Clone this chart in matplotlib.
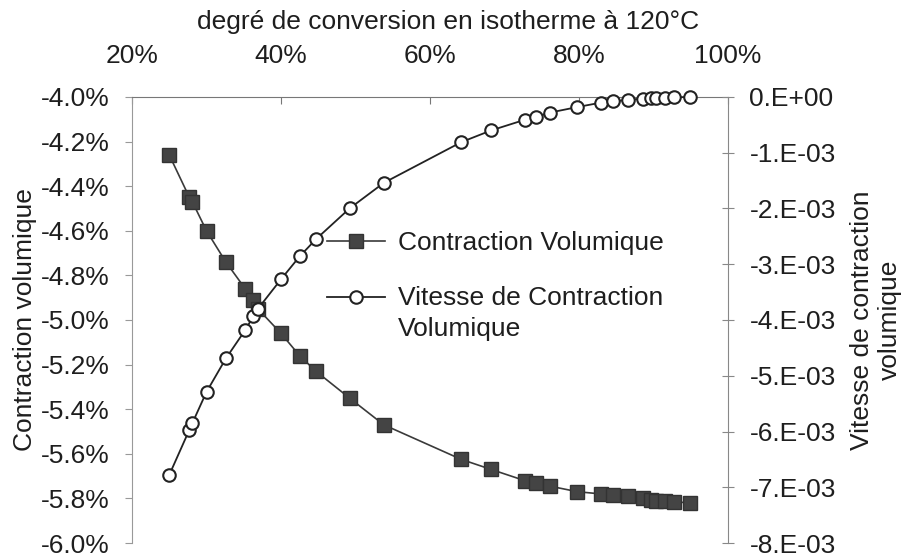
import numpy as np
import matplotlib
matplotlib.use('Agg')
import matplotlib.pyplot as plt
from matplotlib.ticker import FuncFormatter
from matplotlib.legend_handler import HandlerLine2D

plt.rcParams['font.family'] = ['Liberation Sans', 'DejaVu Sans']
plt.rcParams['font.size'] = 19

# degré de conversion (%)
conversion = [25.0, 27.7, 28.1, 30.0, 32.6, 35.2, 36.3, 36.9, 40.0, 42.5, 44.7,
              49.2, 53.8, 64.2, 68.2, 72.7, 74.2, 76.1, 79.8, 83.0, 84.6, 86.6,
              88.6, 89.7, 90.4, 91.5, 92.7, 94.9]
# contraction volumique (%)
contraction = [-4.26, -4.45, -4.47, -4.60, -4.74, -4.86, -4.91, -4.95, -5.06,
               -5.16, -5.23, -5.35, -5.47, -5.625, -5.67, -5.72, -5.73, -5.745,
               -5.77, -5.78, -5.785, -5.79, -5.80, -5.805, -5.81, -5.81, -5.815,
               -5.82]
# vitesse de contraction volumique
vitesse = [-6.78e-3, -5.97e-3, -5.85e-3, -5.29e-3, -4.69e-3, -4.18e-3, -3.93e-3,
           -3.80e-3, -3.27e-3, -2.86e-3, -2.55e-3, -2.00e-3, -1.54e-3, -0.81e-3,
           -0.60e-3, -0.41e-3, -0.36e-3, -0.28e-3, -0.18e-3, -0.10e-3, -0.08e-3,
           -0.05e-3, -0.03e-3, -0.02e-3, -0.015e-3, -0.01e-3, -0.005e-3, 0.0]

x_ticks = [20, 40, 60, 80, 100]
left_ticks = [-6.0, -5.8, -5.6, -5.4, -5.2, -5.0, -4.8, -4.6, -4.4, -4.2, -4.0]
right_ticks = [-8e-3, -7e-3, -6e-3, -5e-3, -4e-3, -3e-3, -2e-3, -1e-3, 0.0]

txt = '#1e1e1e'


def sci_fmt(v, pos=None):
    if abs(v) < 1e-12:
        return '0.E+00'
    return f"{v:.0E}".replace('E', '.E')


class RaisedLine(HandlerLine2D):
    # puts the legend sample level with the first line of a two-line label
    def __init__(self, raise_by=0.0, **kw):
        super().__init__(**kw)
        self.raise_by = raise_by

    def create_artists(self, legend, orig_handle, xdescent, ydescent,
                       width, height, fontsize, trans):
        return super().create_artists(legend, orig_handle, xdescent,
                                      ydescent - 2 * self.raise_by * fontsize,
                                      width, height, fontsize, trans)


fig = plt.figure(figsize=(9.06, 5.59), dpi=100)
ax = fig.add_axes([0.1457, 0.0286, 0.6578, 0.7979])

(l1,) = ax.plot(conversion, contraction, color='#3a3a3a', lw=1.2,
                marker='s', markersize=10.5, markerfacecolor='#444444',
                markeredgecolor='#333333', label='Contraction Volumique',
                clip_on=False, zorder=3)

ax.set_xlim(20, 100)
ax.set_ylim(-6.0, -4.0)
ax.xaxis.tick_top()
ax.xaxis.set_label_position('top')
ax.set_xticks(x_ticks)
ax.xaxis.set_major_formatter(FuncFormatter(lambda v, p: f"{v:.0f}%"))
ax.set_yticks(left_ticks)
ax.yaxis.set_major_formatter(FuncFormatter(lambda v, p: f"{v:.1f}%"))
ax.tick_params(axis='x', direction='in', length=5, pad=21, colors='#777777',
               labelcolor=txt)
ax.tick_params(axis='y', direction='out', length=5, pad=11, colors='#999999',
               labelcolor=txt)
ax.spines['bottom'].set_visible(False)
ax.spines['right'].set_visible(False)
ax.spines['top'].set_color('#777777')
ax.spines['left'].set_color('#999999')
ax.set_xlabel('degré de conversion en isotherme à 120°C', labelpad=11, color=txt)
ax.xaxis.label.set_x(0.53)
ax.set_ylabel('Contraction volumique', labelpad=3, color=txt)

ax2 = ax.twinx()
(l2,) = ax2.plot(conversion, vitesse, color='#222222', lw=1.3,
                 marker='o', markersize=9, markerfacecolor='white',
                 markeredgecolor='#222222', markeredgewidth=1.5,
                 label='Vitesse de Contraction\nVolumique',
                 clip_on=False, zorder=4)
ax2.set_ylim(-8e-3, 0)
ax2.set_yticks(right_ticks)
ax2.yaxis.set_major_formatter(FuncFormatter(sci_fmt))
ax2.tick_params(axis='y', direction='inout', length=9, pad=11,
                colors='#888888', labelcolor=txt)
for s in ['bottom', 'left', 'top']:
    ax2.spines[s].set_visible(False)
ax2.spines['right'].set_color('#888888')
ax2.set_ylabel('Vitesse de contraction\nvolumique', labelpad=10, color=txt)

leg = ax2.legend(handles=[l1, l2], loc='upper left',
                 bbox_to_anchor=(0.327, 0.700), frameon=False, borderpad=0,
                 borderaxespad=0, handlelength=2.2, handletextpad=0.5,
                 labelspacing=1.2, fontsize=19,
                 handler_map={l2: RaisedLine(raise_by=0.65)})
for t in leg.get_texts():
    t.set_linespacing(1.35)
    t.set_color(txt)

fig.savefig('out.png', dpi=100)
